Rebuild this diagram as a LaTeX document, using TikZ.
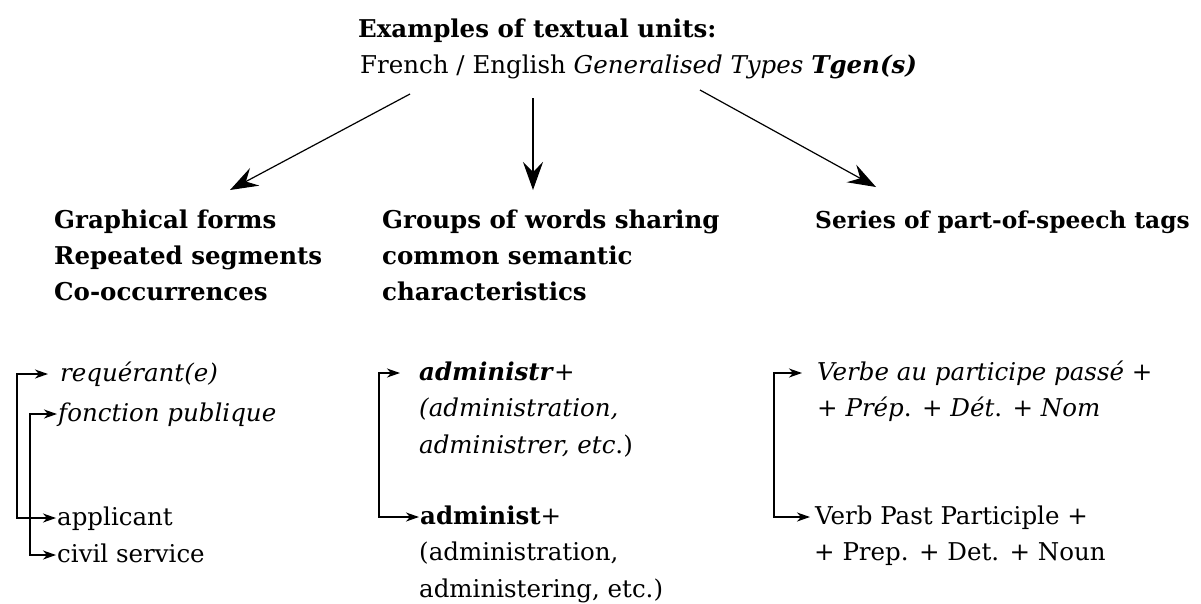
\documentclass[tikz,border=0pt]{standalone}
\usepackage{fontspec}
\setmainfont{DejaVu Serif}
\usetikzlibrary{arrows.meta}
\begin{document}
\begin{tikzpicture}[x=1pt,y=-1pt,
  every node/.style={inner sep=0pt, anchor=base west, font=\fontsize{24.5}{36}\selectfont},
  hdr/.style={font=\fontsize{24.5}{36}\selectfont\bfseries},
  item/.style={text height=14pt, text depth=0pt, inner xsep=1pt, inner ysep=0pt},
  bigarrow/.style={line width=1.2pt, -{Stealth[length=28pt,width=20pt,inset=10pt]}},
  brk/.style={line width=1.6pt, {Stealth[length=13pt,width=9pt,inset=4pt]}-{Stealth[length=13pt,width=9pt,inset=4pt]}},
]
\useasboundingbox (0,0) rectangle (1201,603);

% title
\node[hdr] (t1) at (358,37) {Examples of textual units:};
\node (t2) at (360,73) {French / English \textit{Generalised Types} \textbf{\textit{Tgen(s)}}};

% column headers
\node[hdr] (g1) at (54,228) {Graphical forms};
\node[hdr] (g2) at (54,264) {Repeated segments};
\node[hdr] (g3) at (54,300) {Co-occurrences};
\node[hdr] (m1) at (382,228) {Groups of words sharing};
\node[hdr] (m2) at (382,264) {common semantic};
\node[hdr] (m3) at (382,300) {characteristics};
\node[hdr, font=\fontsize{23.3}{36}\selectfont\bfseries] (r1) at (815,228) {Series of part-of-speech tags};

% top arrows
\coordinate (s1) at (410,94);  \coordinate (e1) at (230,190);
\coordinate (s2) at (533,98);  \coordinate (e2) at (533,190);
\coordinate (s3) at (700,90);  \coordinate (e3) at (876,187);
\draw[bigarrow] (s1) -- (e1);
\draw[bigarrow] (s2) -- (e2);
\draw[bigarrow] (s3) -- (e3);

% left column items
\node[item] (req) at (59,381) {\textit{requérant(e)}};
\node[item] (fon) at (57,421) {\textit{fonction publique}};
\node[item] (app) at (56,525) {applicant};
\node[item] (civ) at (56,562) {civil service};
\coordinate (bx1) at (17,450);
\coordinate (bx2) at (30,480);
\draw[brk, shorten <=11pt] (req.west) -| (bx1) |- (app.west);
\draw[brk] (fon.west) -| (bx2) |- (civ.west);

% middle column items
\node[item] (ad1) at (418,380) {\textbf{\textit{administr}}+};
\node (ad2) at (419,416.5) {\textit{(administration,}};
\node (ad3) at (419,453) {\textit{administrer, etc}.)};
\node[item] (ad4) at (419,524) {\textbf{administ}+};
\node (ad5) at (419,560) {(administration,};
\node (ad6) at (419,597) {administering, etc.)};
\coordinate (bx3) at (379,450);
\draw[brk, shorten <=18pt] (ad1.west) -| (bx3) |- (ad4.west);

% right column items
\node[item] (v1) at (816,380) {\textit{Verbe au participe passé} +};
\node (v2) at (817,416) {+ \textit{Prép}. + \textit{Dét}. + \textit{Nom}};
\node[item] (v3) at (814,524) {Verb Past Participle +};
\node (v4) at (814,560) {+ Prep. + Det. + Noun};
\coordinate (bx4) at (774,450);
\draw[brk, shorten <=14pt, shorten >=4pt] (v1.west) -| (bx4) |- (v3.west);
\end{tikzpicture}
\end{document}
